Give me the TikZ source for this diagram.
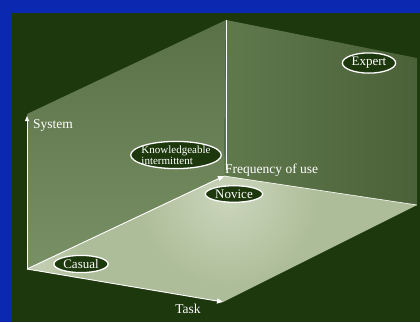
\documentclass[tikz,border=0pt]{standalone}
\usepackage{fontspec}
\setmainfont{Liberation Serif}
\usetikzlibrary{arrows.meta, shapes.geometric, calc}
\definecolor{slideblue}{HTML}{0A28B0}
\definecolor{boardgreen}{HTML}{1D380D}
\definecolor{wallleft}{HTML}{6A8454}
\definecolor{wallright}{HTML}{587243}
\definecolor{floorlight}{HTML}{AEBD99}
\definecolor{floorglow}{HTML}{CBD6BC}
\tikzset{
  user/.style={ellipse, draw=white, line width=1.3pt, fill=boardgreen, text=white,
    inner sep=1.5pt, font=\fontsize{13}{13}\selectfont},
  axislabel/.style={text=white, inner sep=1pt, font=\fontsize{13.5}{14}\selectfont},
  axis/.style={white, line width=0.9pt, -{Triangle[length=6pt, width=5pt]}}
}

\begin{document}
\begin{tikzpicture}[x=1pt, y=-1pt]
    \useasboundingbox (0,0) rectangle (420,322);
    % Slide and board
    \fill[slideblue] (0,0) rectangle (420,322);
    \fill[boardgreen] (12,13) rectangle (420,322);

    % Corners of the box
    \coordinate (O) at (27,269);
    \coordinate (S) at (27,116);
    \coordinate (LT) at (27,114);
    \coordinate (BT) at (226,20);
    \coordinate (B) at (224,176);
    \coordinate (RT) at (417,58);
    \coordinate (RB) at (417,205);
    \coordinate (T) at (223,302);

    % Walls (left and back) and floor
    \shade[top color=wallleft!85!black, bottom color=wallleft!90!white]
        (O) -- (LT) -- (BT) -- (B) -- cycle;
    \shade[left color=wallright!95!white, right color=wallright!85!black]
        (BT) -- (RT) -- (RB) -- (B) -- cycle;
    \begin{scope}
        \clip (O) -- (B) -- (RB) -- (T) -- cycle;
        \fill[floorlight] (O) -- (B) -- (RB) -- (T) -- cycle;
        \shade[inner color=floorglow, outer color=floorlight] (228,196) circle (90);
        \shade[inner color=floorglow!70!floorlight, outer color=floorlight] (40,266) circle (45);
    \end{scope}

    % Edges of the box
    \draw[white, line width=0.8pt] (BT) -- ($(B)+(2,-6)$);
    \draw[white!85!floorlight, line width=0.7pt] (B) -- (RB);

    % Axes
    \draw[axis, -{Triangle[length=5pt, width=4pt]}] (O) -- (S);
    \draw[axis] (O) -- (B);
    \draw[axis] (O) -- (T);

    % Axis labels
    \node[axislabel, anchor=west] (system) at (32,125) {System};
    \node[axislabel, anchor=west] (freq) at (224,170) {Frequency of use};
    \node[axislabel] (task) at (188,309) {Task};

    % Users
    \node[user, align=left, inner xsep=-2.5pt, inner ysep=0pt,
        font=\fontsize{11}{11.5}\selectfont] (knowl) at (176,155)
        {Knowledgeable\\intermittent};
    \node[user] (novice) at (234,194) {Novice};
    \node[user] (expert) at (369,63) {Expert};
    \node[user] (casual) at (81,264) {Casual};
\end{tikzpicture}
\end{document}
